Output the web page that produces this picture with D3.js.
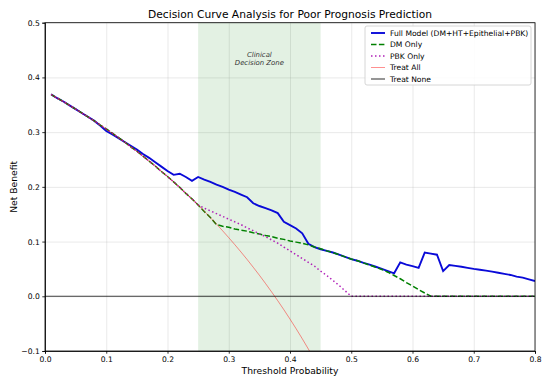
<!DOCTYPE html>
<html>
<head>
<meta charset="utf-8">
<script src="https://cdn.jsdelivr.net/npm/d3@7"></script>
<style>
  body { margin: 0; background: #fff; }
  text { font-family: "DejaVu Sans", sans-serif; fill: #000; }
  .grid line { stroke: #b0b0b0; stroke-opacity: 0.35; stroke-width: 0.8; }
  .grid path { display: none; }
  .axis text { font-size: 7.6px; }
  .axis path, .axis line { stroke: #000; stroke-width: 0.8; }
</style>
</head>
<body>
<div id="chart"></div>
<script>
//MARGIN CONVENTION
var MARGIN = { LEFT: 45, RIGHT: 15, TOP: 22.7, BOTTOM: 33 }
var WIDTH  = 550, HEIGHT = 384
var CANVAS = { WIDTH : WIDTH  - MARGIN.LEFT - MARGIN.RIGHT,
               HEIGHT: HEIGHT - MARGIN.TOP  - MARGIN.BOTTOM }

//DATA
const thresholds = [0.01,0.02,0.03,0.04,0.05,0.06,0.07,0.08,0.09,0.10,
                    0.11,0.12,0.13,0.14,0.15,0.16,0.17,0.18,0.19,0.20,
                    0.21,0.22,0.23,0.24,0.25,0.26,0.27,0.28,0.29,0.30,
                    0.31,0.32,0.33,0.34,0.35,0.36,0.37,0.38,0.39,0.40,
                    0.41,0.42,0.43,0.44,0.45,0.46,0.47,0.48,0.49,0.50,
                    0.51,0.52,0.53,0.54,0.55,0.56,0.57,0.58,0.59,0.60,
                    0.61,0.62,0.63,0.64,0.65,0.66,0.67,0.68,0.69,0.70,
                    0.71,0.72,0.73,0.74,0.75,0.76,0.77,0.78,0.79,0.80]

const fullModel = [0.369,0.362,0.356,0.349,0.342,0.335,0.328,0.321,0.312,0.302,
                   0.296,0.289,0.282,0.275,0.268,0.260,0.253,0.245,0.237,0.229,
                   0.222,0.224,0.218,0.211,0.218,0.213,0.209,0.204,0.200,0.195,
                   0.191,0.186,0.181,0.170,0.165,0.161,0.157,0.152,0.136,0.130,
                   0.124,0.115,0.096,0.090,0.086,0.083,0.080,0.076,0.072,0.068,
                   0.065,0.061,0.058,0.054,0.050,0.046,0.042,0.062,0.058,0.055,
                   0.052,0.080,0.078,0.076,0.046,0.057,0.0555,0.054,0.052,0.050,
                   0.0485,0.047,0.045,0.043,0.041,0.039,0.036,0.034,0.031,0.028]

const dmOnly = [0.369,0.362,0.356,0.349,0.342,0.335,0.328,0.321,0.313,0.306,
                0.298,0.290,0.282,0.273,0.265,0.256,0.247,0.238,0.228,0.219,
                0.209,0.199,0.188,0.178,0.167,0.155,0.144,0.131,0.128,0.126,
                0.123,0.121,0.119,0.116,0.114,0.111,0.109,0.106,0.104,0.101,
                0.099,0.097,0.094,0.090,0.087,0.083,0.080,0.076,0.072,0.068,
                0.065,0.061,0.057,0.053,0.049,0.044,0.038,0.032,0.025,0.019,
                0.012,0.006,0,0,0,0,0,0,0,0,
                0,0,0,0,0,0,0,0,0,0]

const pbkOnly = [0.369,0.362,0.356,0.349,0.342,0.335,0.328,0.321,0.313,0.306,
                 0.298,0.290,0.282,0.273,0.265,0.256,0.247,0.238,0.228,0.219,
                 0.209,0.199,0.188,0.178,0.167,0.161,0.156,0.151,0.146,0.141,
                 0.136,0.131,0.125,0.120,0.114,0.109,0.103,0.097,0.090,0.083,
                 0.076,0.069,0.062,0.055,0.046,0.038,0.029,0.020,0.010,0,
                 0,0,0,0,0,0,0,0,0,0,
                 0,0,0,0,0,0,0,0,0,0,
                 0,0,0,0,0,0,0,0,0,0]

// treat all only goes as far as the plot shows it
const treatAll = [0.3687,0.3622,0.3557,0.3490,0.3421,0.3351,0.3280,0.3207,0.3132,0.3056,
                  0.2978,0.2898,0.2816,0.2733,0.2647,0.2560,0.2470,0.2378,0.2284,0.2188,
                  0.2089,0.1987,0.1883,0.1776,0.1667,0.1554,0.1438,0.1319,0.1197,0.1071,
                  0.0942,0.0809,0.0672,0.0530,0.0385,0.0234,0.0079,-0.0081,-0.0246,-0.0417,
                  -0.0593,-0.0776,-0.0965,-0.1161]

const treatNone = [0, 0]
const treatNoneX = [0, 0.8]

const xTicks = [0.0,0.1,0.2,0.3,0.4,0.5,0.6,0.7,0.8]
const yTicks = [-0.1,0.0,0.1,0.2,0.3,0.4,0.5]
const zone = [0.25, 0.45]

const svg = d3.select("#chart").append("svg")
    .attr("width", WIDTH)
    .attr("height", HEIGHT)
const svgCanvas = svg.append("g")
    .attr("transform", `translate(${MARGIN.LEFT}, ${MARGIN.TOP})`)

//SCALES
let xScale = d3.scaleLinear().domain([0, 0.8]).range([0, CANVAS.WIDTH])
let yScale = d3.scaleLinear().domain([-0.1, 0.5]).range([CANVAS.HEIGHT, 0])

svg.append("defs").append("clipPath").attr("id", "clip")
  .append("rect").attr("width", CANVAS.WIDTH).attr("height", CANVAS.HEIGHT)

// GRID
svgCanvas.append("g").attr("class", "grid")
  .attr("transform", `translate(0, ${CANVAS.HEIGHT})`)
  .call(d3.axisBottom(xScale).tickValues(xTicks).tickSize(-CANVAS.HEIGHT).tickFormat(""))
svgCanvas.append("g").attr("class", "grid")
  .call(d3.axisLeft(yScale).tickValues(yTicks).tickSize(-CANVAS.WIDTH).tickFormat(""))

// clinical decision zone
svgCanvas.append("rect")
  .attr("x", xScale(zone[0]))
  .attr("width", xScale(zone[1]) - xScale(zone[0]))
  .attr("y", 0).attr("height", CANVAS.HEIGHT)
  .attr("fill", "green").attr("fill-opacity", 0.11)

const zoneText = svgCanvas.append("text")
  .attr("x", xScale((zone[0] + zone[1]) / 2))
  .attr("y", 34)
  .attr("text-anchor", "middle")
  .style("font-size", "6.9px").style("font-style", "italic").style("fill", "#333")
zoneText.append("tspan").attr("x", xScale((zone[0] + zone[1]) / 2)).text("Clinical")
zoneText.append("tspan").attr("x", xScale((zone[0] + zone[1]) / 2)).attr("dy", 8).text("Decision Zone")

//LINES
const line = d3.line()
  .x(d => xScale(d[0]))
  .y(d => yScale(d[1]))

const SERIES = [
  { name: "Full Model (DM+HT+Epithelial+PBK)", x: thresholds, y: fullModel, color: "#0a0ad8", width: 1.9, dash: null, opacity: 1 },
  { name: "DM Only", x: thresholds, y: dmOnly, color: "#008000", width: 1.5, dash: "5.5,2.4", opacity: 1 },
  { name: "PBK Only", x: thresholds, y: pbkOnly, color: "#b020b8", width: 1.5, dash: "1.5,2.5", opacity: 1 },
  { name: "Treat All", x: thresholds.slice(0, treatAll.length), y: treatAll, color: "#ff0000", width: 0.8, dash: null, opacity: 0.55 },
  { name: "Treat None", x: treatNoneX, y: treatNone, color: "#000", width: 1.1, dash: null, opacity: 0.75 }
]

const gLines = svgCanvas.append("g").attr("clip-path", "url(#clip)")
SERIES.forEach(s => {
  gLines.append("path")
    .attr("d", line(s.x.map((x, i) => [x, s.y[i]])))
    .attr("fill", "none")
    .attr("stroke", s.color)
    .attr("stroke-width", s.width)
    .attr("stroke-opacity", s.opacity)
    .attr("stroke-dasharray", s.dash)
})

//AXES
const gAxisX = svgCanvas.append("g").attr("class", "axis")
  .attr("transform", `translate(0, ${CANVAS.HEIGHT})`)
  .call(d3.axisBottom(xScale).tickValues(xTicks).tickSize(2.7).tickPadding(2.5).tickFormat(d3.format(".1f")))
const gAxisY = svgCanvas.append("g").attr("class", "axis")
  .call(d3.axisLeft(yScale).tickValues(yTicks).tickSize(2.7).tickPadding(2.5).tickFormat(d => d3.format(".1f")(d).replace("-", "\u2212")))

// frame (top/right spines)
svgCanvas.append("rect")
  .attr("width", CANVAS.WIDTH).attr("height", CANVAS.HEIGHT)
  .attr("fill", "none").attr("stroke", "#000").attr("stroke-width", 0.8)

//LABELS
svg.append("text").text("Decision Curve Analysis for Poor Prognosis Prediction")
  .attr("x", MARGIN.LEFT + CANVAS.WIDTH / 2).attr("y", 18)
  .attr("text-anchor", "middle").style("font-size", "10.7px")
svg.append("text").text("Threshold Probability")
  .attr("x", MARGIN.LEFT + CANVAS.WIDTH / 2).attr("y", 374)
  .attr("text-anchor", "middle").style("font-size", "9.2px")
svg.append("text").text("Net Benefit")
  .attr("transform", `translate(17, ${MARGIN.TOP + CANVAS.HEIGHT / 2}) rotate(-90)`)
  .attr("text-anchor", "middle").style("font-size", "9.2px")

// LEGEND
const LEGEND = { X: 365, Y: 26, W: 166, H: 59, ROW: 11.5 }
const gLegend = svg.append("g").attr("transform", `translate(${LEGEND.X}, ${LEGEND.Y})`)
gLegend.append("rect")
  .attr("width", LEGEND.W).attr("height", LEGEND.H).attr("rx", 2)
  .attr("fill", "#fff").attr("fill-opacity", 0.85)
  .attr("stroke", "#ccc").attr("stroke-width", 0.8)
const legendItem = gLegend.selectAll(".legend-item").data(SERIES).join("g")
  .attr("class", "legend-item")
  .attr("transform", (d, i) => `translate(0, ${7 + i * LEGEND.ROW})`)
legendItem.append("line")
  .attr("x1", 6).attr("x2", 20).attr("y1", 0).attr("y2", 0)
  .attr("stroke", d => d.color).attr("stroke-width", d => d.width)
  .attr("stroke-opacity", d => d.opacity)
  .attr("stroke-dasharray", d => d.dash)
legendItem.append("text").text(d => d.name)
  .attr("x", 25).attr("y", 2.8).style("font-size", "7.6px")
</script>
</body>
</html>
